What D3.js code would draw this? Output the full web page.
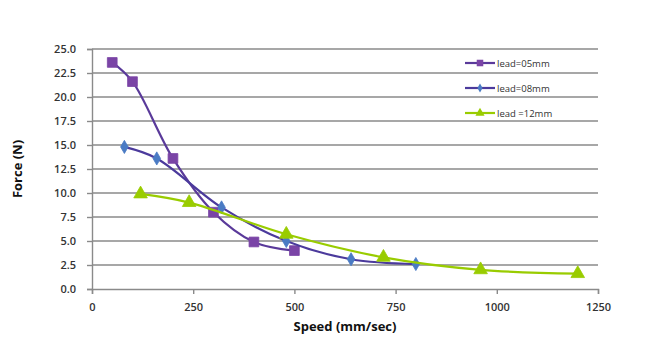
<!DOCTYPE html>
<html>
<head>
    <title>Force vs Speed</title>
    <meta charset="utf-8">
    <style>
        body { margin: 0; background: #fff; }
        text { font-family: "Open Sans", "DejaVu Sans", sans-serif; }
    </style>
</head>
<body>
<script src="https://d3js.org/d3.v7.min.js"></script>
<script>
    // Data
    const speed05 = [50, 100, 200, 300, 400, 500];
    const force05 = [23.6, 21.6, 13.6, 8.0, 4.9, 4.0];
    const speed08 = [80, 160, 320, 480, 640, 800];
    const force08 = [14.8, 13.6, 8.5, 5.0, 3.1, 2.6];
    const speed12 = [120, 240, 480, 720, 960, 1200];
    const force12 = [9.9, 9.0, 5.7, 3.3, 2.0, 1.6];
    const seriesNames = ['lead=05mm', 'lead=08mm', 'lead =12mm'];
    const xTicks = [0, 250, 500, 750, 1000, 1250];
    const yTicks = [0, 2.5, 5, 7.5, 10, 12.5, 15, 17.5, 20, 22.5, 25];

    const W = 665, H = 363;
    const M = {left: 92, right: 67, top: 49, bottom: 74};

    const series = [
        {name: seriesNames[0], xs: speed05, ys: force05, line: '#5a3a9a', fill: '#7a44a6', shape: d3.symbolSquare, size: 95},
        {name: seriesNames[1], xs: speed08, ys: force08, line: '#4b3a9c', fill: '#4a7bc4', shape: d3.symbolDiamond, size: 50},
        {name: seriesNames[2], xs: speed12, ys: force12, line: '#99cc00', fill: '#99cc00', shape: d3.symbolTriangle, size: 80}
    ];

    const x = d3.scaleLinear().domain([0, 1250]).range([M.left, W - M.right]);
    const y = d3.scaleLinear().domain([0, 25]).range([H - M.bottom, M.top]);

    const svg = d3.select('body').append('svg')
        .attr('width', W)
        .attr('height', H);

    // Horizontal gridlines
    svg.append('g')
        .selectAll('line')
        .data(yTicks.filter(d => d > 0))
        .join('line')
        .attr('x1', x(0)).attr('x2', x(1250))
        .attr('y1', d => y(d)).attr('y2', d => y(d))
        .attr('stroke', '#8a8a8a')
        .attr('stroke-width', 1.4);

    // Y axis
    const yAxis = svg.append('g')
        .attr('transform', `translate(${x(0)},0)`)
        .call(d3.axisLeft(y).tickValues(yTicks).tickFormat(d3.format('.1f')).tickSize(5).tickPadding(11));
    // X axis
    const xAxis = svg.append('g')
        .attr('transform', `translate(0,${y(0)})`)
        .call(d3.axisBottom(x).tickValues(xTicks).tickFormat(d3.format('d')).tickSize(5).tickPadding(9));

    [yAxis, xAxis].forEach(a => {
        a.select('.domain').attr('stroke', '#8a8a8a').attr('stroke-width', 1.4);
        a.selectAll('.tick line').attr('stroke', '#8a8a8a').attr('stroke-width', 1.4);
        a.selectAll('.tick text')
            .attr('fill', '#333')
            .style('font-size', '11px')
            .style('font-weight', 600);
    });

    // Lines and markers
    const line = d3.line()
        .x(d => x(d[0]))
        .y(d => y(d[1]))
        .curve(d3.curveCatmullRom.alpha(0.5));

    series.forEach(s => {
        const pts = s.xs.map((v, i) => [v, s.ys[i]]);
        svg.append('path')
            .datum(pts)
            .attr('d', line)
            .attr('fill', 'none')
            .attr('stroke', s.line)
            .attr('stroke-width', 2.2);
        svg.append('g')
            .selectAll('path')
            .data(pts)
            .join('path')
            .attr('transform', d => `translate(${x(d[0])},${y(d[1])})`)
            .attr('d', d3.symbol().type(s.shape).size(s.size))
            .attr('fill', s.fill)
            .attr('stroke', s.fill)
            .attr('stroke-width', 0.8);
    });

    // Legend
    const legend = svg.append('g');
    series.forEach((s, i) => {
        const ly = 63 + i * 25;
        legend.append('line')
            .attr('x1', 465).attr('x2', 495)
            .attr('y1', ly).attr('y2', ly)
            .attr('stroke', s.line)
            .attr('stroke-width', 2.2);
        legend.append('path')
            .attr('transform', `translate(480,${ly})`)
            .attr('d', d3.symbol().type(s.shape).size(s.size * 0.45))
            .attr('fill', s.fill);
        legend.append('text')
            .attr('x', 497).attr('y', ly + 3.5)
            .attr('fill', '#333')
            .style('font-size', '9.5px')
            .text(s.name);
    });

    // Axis titles
    svg.append('text')
        .attr('x', (x(0) + x(1250)) / 2)
        .attr('y', 331)
        .attr('text-anchor', 'middle')
        .attr('fill', '#111')
        .style('font-size', '13px')
        .style('font-weight', 700)
        .text('Speed (mm/sec)');

    svg.append('text')
        .attr('transform', `translate(22,${(y(0) + y(25)) / 2}) rotate(-90)`)
        .attr('text-anchor', 'middle')
        .attr('fill', '#111')
        .style('font-size', '13px')
        .style('font-weight', 700)
        .text('Force (N)');
</script>
</body>
</html>
